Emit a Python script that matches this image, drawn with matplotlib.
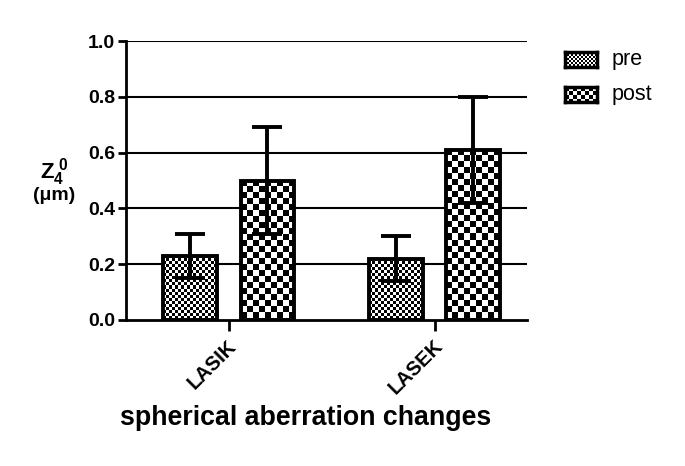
import numpy as np
import matplotlib
matplotlib.use("Agg")
import matplotlib.pyplot as plt
import matplotlib.transforms as mtransforms

plt.rcParams["font.family"] = ["Liberation Sans", "DejaVu Sans"]
plt.rcParams["mathtext.fontset"] = "custom"
plt.rcParams["mathtext.rm"] = "Liberation Sans"
plt.rcParams["mathtext.bf"] = "Liberation Sans:bold"

groups = ["LASIK", "LASEK"]
series = ["pre", "post"]
means = {"pre": [0.23, 0.22], "post": [0.50, 0.61]}
errs = {"pre": [0.08, 0.08], "post": [0.19, 0.19]}
yticks = [0.0, 0.2, 0.4, 0.6, 0.8, 1.0]
cell_px = {"pre": 3, "post": 6}

W, H = 685, 466
fig = plt.figure(figsize=(W / 100, H / 100), dpi=100)
ax = fig.add_axes([126 / W, 1 - 320 / H, (527 - 126) / W, (320 - 41) / H])
ax.set_xlim(-0.5, 1.447)
ax.set_ylim(0, 1.0)

for y in yticks[1:]:
    ax.axhline(y, color="black", lw=1.5, zorder=1)

def checker(nx, ny, c):
    yy, xx = np.mgrid[0:ny, 0:nx]
    return (((xx // c) + (yy // c)) % 2).astype(float)

width = 0.262
offs = {"pre": -0.187, "post": 0.187}
x = np.arange(len(groups))
px_per_x = (527 - 126) / 1.947
px_per_y = (320 - 41) / 1.0
for s in series:
    bars = ax.bar(x + offs[s], means[s], width, facecolor="none", edgecolor="black",
                  lw=2.8, zorder=4)
    for b in bars:
        bx, by = b.get_x(), b.get_y()
        bw, bh = b.get_width(), b.get_height()
        nx = int(round(bw * px_per_x))
        ny = int(round(bh * px_per_y))
        im = ax.imshow(checker(nx, ny, cell_px[s]), cmap="gray", vmin=0, vmax=1,
                       extent=[bx, bx + bw, by, by + bh], interpolation="nearest",
                       aspect="auto", zorder=3, origin="upper")
        im.set_clip_path(b)
    ax.errorbar(x + offs[s], means[s], yerr=errs[s], fmt="none", ecolor="black",
                elinewidth=2.8, capsize=10.5, capthick=2.8, zorder=5)

ax.set_xlim(-0.5, 1.447)
ax.set_ylim(0, 1.0)
for sp in ["top", "right"]:
    ax.spines[sp].set_visible(False)
for sp in ["left", "bottom"]:
    ax.spines[sp].set_linewidth(2)
ax.set_yticks(yticks)
ax.set_yticklabels([f"{v:.1f}" for v in yticks], fontsize=14, fontweight="bold")
ax.set_xticks(x)
ax.set_xticklabels(groups, rotation=45, ha="right", rotation_mode="anchor",
                   fontsize=14.5, fontweight="bold")
ax.tick_params(axis="both", width=2, length=6, direction="out")
ax.tick_params(axis="y", pad=2)
ax.tick_params(axis="x", length=8, pad=6)
shift = mtransforms.ScaledTranslation(-2 / 100, 3 / 100, fig.dpi_scale_trans)
for lab in ax.get_xticklabels():
    lab.set_transform(lab.get_transform() + shift)

fig.text(306 / W, 1 - 418 / H, "spherical aberration changes", ha="center",
         va="center", fontsize=19.3, fontweight="bold")
fig.text(54 / W, 1 - 172 / H, r"$\mathbf{Z}_{\mathbf{4}}^{\ \mathbf{0}}$", ha="center",
         va="center", fontsize=16)
fig.text(54 / W, 1 - 195 / H, "(μm)", ha="center", va="center", fontsize=14,
         fontweight="bold")

# legend
leg = [("pre", 52, 67), ("post", 87, 102)]
for s, y0, y1 in leg:
    lax = fig.add_axes([565 / W, 1 - y1 / H, 32 / W, (y1 - y0) / H])
    lax.imshow(checker(32, y1 - y0, 2 if s == "pre" else 4), cmap="gray", vmin=0,
               vmax=1, interpolation="nearest", aspect="auto")
    lax.set_xticks([])
    lax.set_yticks([])
    for sp in lax.spines.values():
        sp.set_linewidth(2.5)
    fig.text(612 / W, 1 - (y0 + y1) / 2 / H, s, ha="left", va="center", fontsize=15.5)

fig.savefig("out.png", dpi=100)
